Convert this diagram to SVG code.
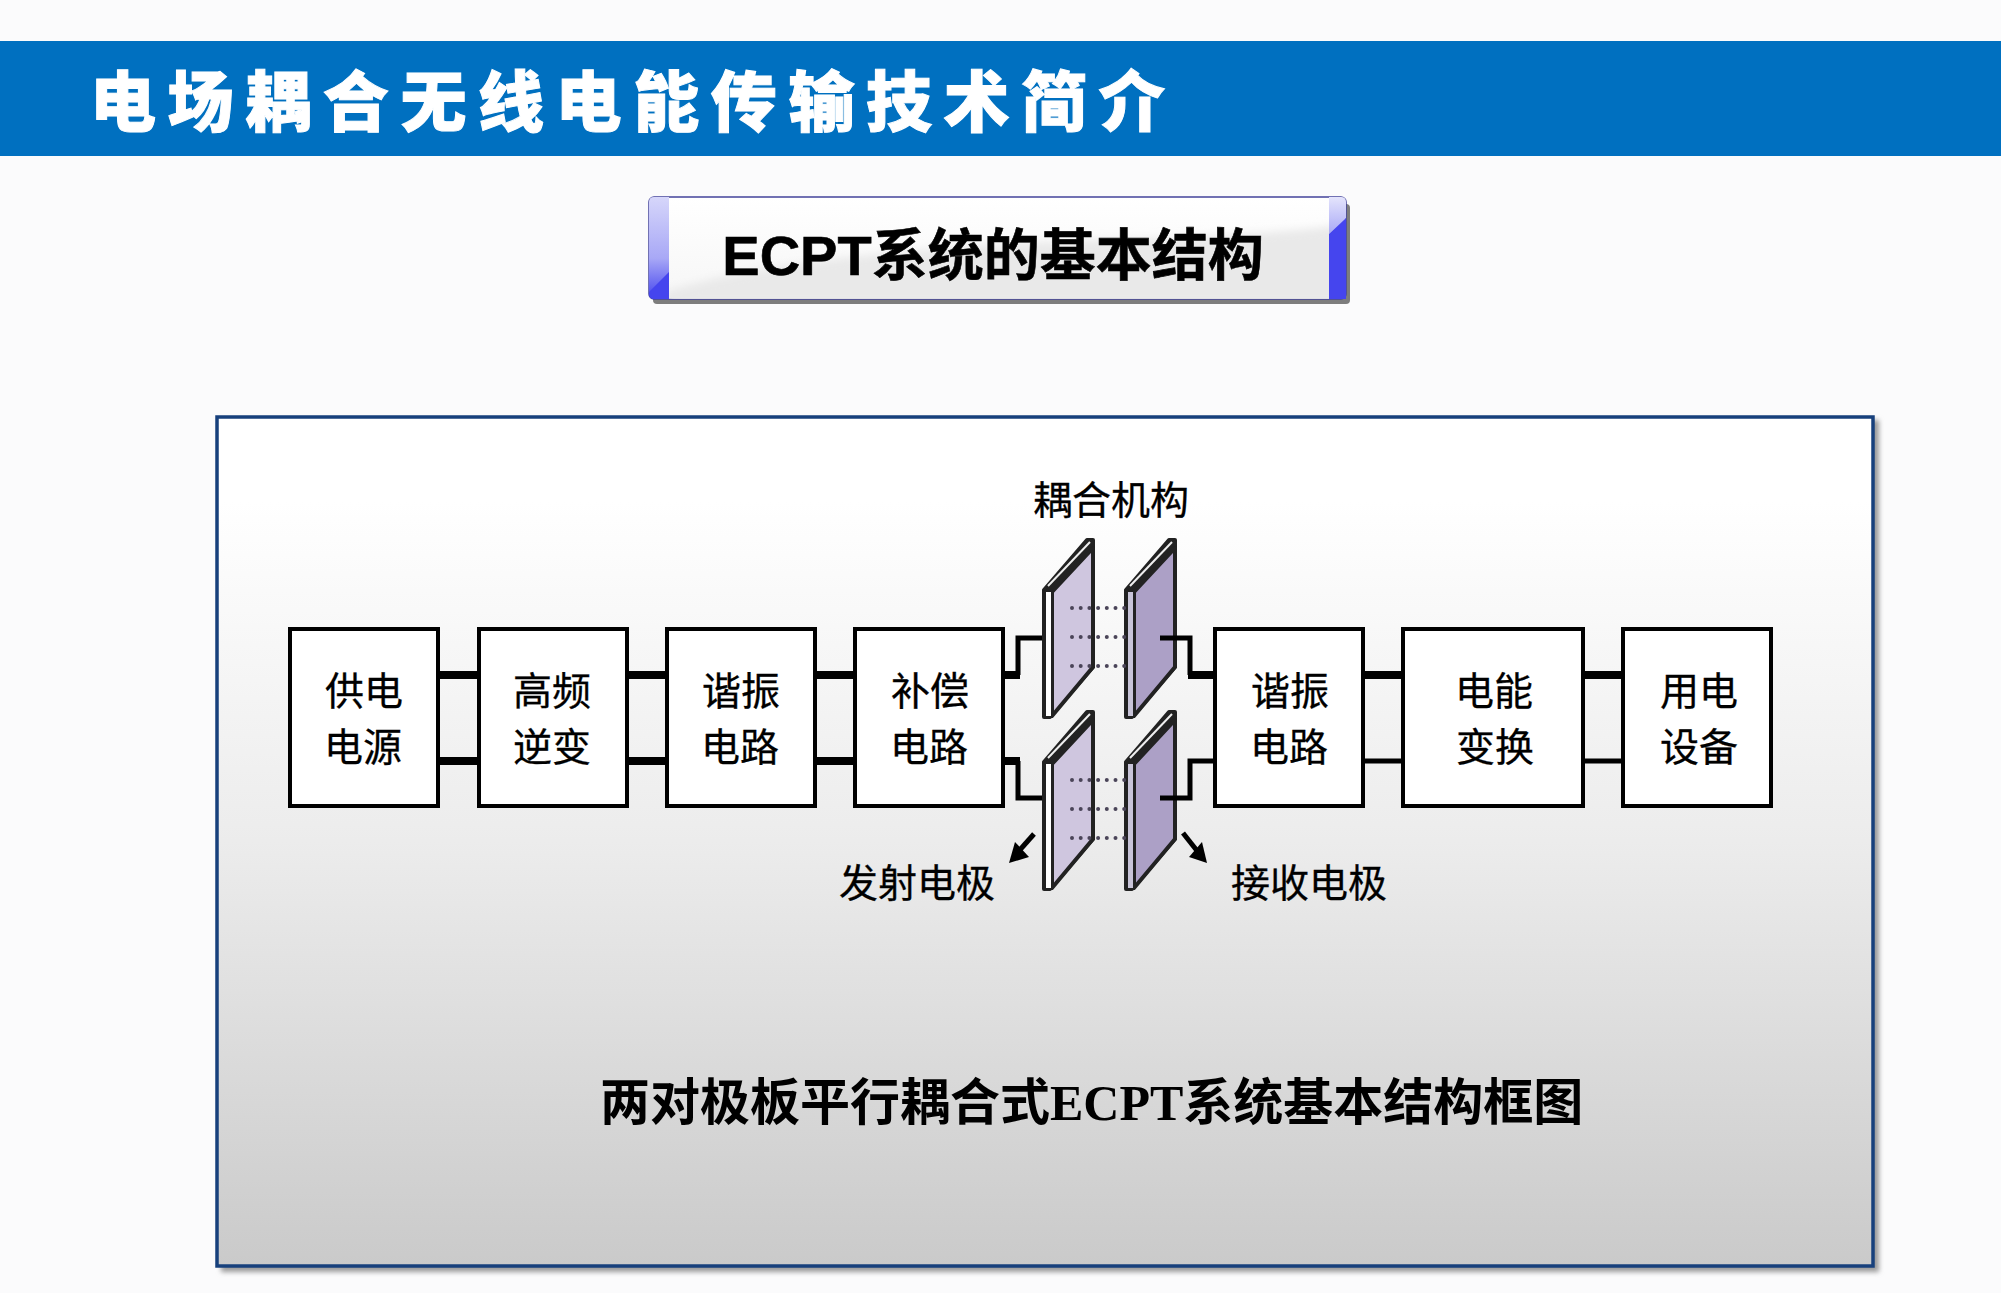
<svg xmlns="http://www.w3.org/2000/svg" width="2001" height="1293" viewBox="0 0 2001 1293">
<style>
.cn{font-family:"Noto Sans CJK SC","Liberation Sans",sans-serif;font-size:39px;fill:#000;stroke:#000;stroke-width:.3;text-anchor:middle}
.box{fill:#fff;stroke:#000;stroke-width:4}
.w8{fill:none;stroke:#000;stroke-width:8}
.w5{fill:none;stroke:#000;stroke-width:5}
.side{fill:#222;stroke:#222;stroke-width:4;stroke-linejoin:round}
.f1{fill:#cfc6df;stroke:#222;stroke-width:4;stroke-linejoin:round}
.f2{fill:#aca0c6;stroke:#222;stroke-width:4;stroke-linejoin:round}
.dots{fill:none;stroke:#4a4458;stroke-width:4;stroke-linecap:round;stroke-dasharray:0 8.7}
</style>
<defs>
<linearGradient id="pg" x1="0" y1="0" x2="0" y2="1"><stop offset="0" stop-color="#fff"/><stop offset=".1" stop-color="#fff"/><stop offset=".5" stop-color="#ececec"/><stop offset="1" stop-color="#cacaca"/></linearGradient>
<linearGradient id="bg" x1="0" y1="0" x2="0" y2="1"><stop offset="0" stop-color="#fff"/><stop offset="1" stop-color="#f6f6f6"/></linearGradient>
<linearGradient id="lb" x1="0" y1="0" x2="0" y2="1"><stop offset="0" stop-color="#d6d6fa"/><stop offset=".6" stop-color="#a8a8f6"/><stop offset="1" stop-color="#4545ee"/></linearGradient>
<linearGradient id="rb" x1="0" y1="0" x2="0" y2="1"><stop offset="0" stop-color="#e4e4fc"/><stop offset="1" stop-color="#a8a8f6"/></linearGradient>
<filter id="soft" x="-5%" y="-5%" width="110%" height="110%"><feGaussianBlur stdDeviation="2.5"/></filter>
<filter id="soft2" x="-5%" y="-20%" width="110%" height="140%"><feGaussianBlur stdDeviation="4"/></filter>
<clipPath id="bc"><rect x="649" y="197" width="697" height="102"/></clipPath>
<g id="plateA"><path class="side" d="M1044 590L1087 540H1093V667L1050 717H1044Z"/><path class="f1" d="M1052 592L1093 548V667L1052 716Z"/><path d="M1048 586L1090 542" stroke="#eee" stroke-width="2"/><rect x="1046" y="592" width="5" height="124" fill="#fff"/></g>
<g id="plateB"><path class="side" d="M1126 590L1169 540H1175V667L1132 717H1126Z"/><path class="f2" d="M1134 592L1175 548V667L1134 716Z"/><path d="M1130 586L1172 542" stroke="#eee" stroke-width="2"/><rect x="1128" y="592" width="5" height="124" fill="#c8c4d8"/></g>
</defs>
<rect id="background" width="2001" height="1293" fill="#fbfbfc"/>
<g id="header"><rect y="41" width="2001" height="115" fill="#0070c0"/>
<text x="90" y="126" font-family="'Noto Sans CJK SC',sans-serif" font-size="66" font-weight="900" fill="#fff" stroke="#fff" stroke-width="1" letter-spacing="11.6">电场耦合无线电能传输技术简介</text></g>
<g id="subtitle">
<rect x="653" y="204" width="697" height="100" rx="4" fill="#7d7d7d"/>
<rect x="649" y="197" width="697" height="102" rx="5" fill="url(#bg)" stroke="#44449a" stroke-width="1.5"/>
<g clip-path="url(#bc)"><path d="M665 292Q800 250 1100 240T1340 216V305H665Z" fill="#e9e9e9" filter="url(#soft2)"/></g>
<path d="M649 202Q649 197 654 197H669V299L649 291Z" fill="url(#lb)"/>
<path d="M649 292L669 272V299H654Q649 299 649 294Z" fill="#4545ee"/>
<path d="M1329 197H1341Q1346 197 1346 202V218L1329 234Z" fill="url(#rb)"/>
<path d="M1329 234L1346 218V299H1329Z" fill="#4545ee"/>
<text x="993" y="275" font-family="'Liberation Sans','Noto Sans CJK SC',sans-serif" font-size="56" font-weight="700" fill="#000" stroke="#000" stroke-width=".6" text-anchor="middle">ECPT<tspan font-family="'Noto Sans CJK SC',sans-serif">系统的基本结构</tspan></text>
</g>
<g id="panel">
<rect x="221" y="420" width="1658" height="852" fill="#9a9a9a" filter="url(#soft)"/>
<rect x="217" y="417" width="1656" height="849" fill="url(#pg)" stroke="#17407c" stroke-width="3.5"/>
</g>
<g id="connectors">
<path class="w8" d="M438 675H479M438 761H479M627 675H667M627 761H667M815 675H854M815 761H854"/>
<path class="w8" d="M1003 675H1020"/><path class="w5" d="M1018 675V638H1044"/>
<path class="w8" d="M1003 761H1020"/><path class="w5" d="M1018 761V798H1044"/>
<path class="w8" d="M1363 675H1403M1582 675H1623"/>
<path class="w5" d="M1363 761H1403M1582 761H1623"/>
</g>
<g id="plate-tx-top"><use href="#plateA"/></g>
<g id="plate-rx-top"><use href="#plateB"/></g>
<g id="plate-tx-bottom"><use href="#plateA" y="172"/></g>
<g id="plate-rx-bottom"><use href="#plateB" y="172"/></g>
<g id="field-lines">
<path class="dots" d="M1072 608H1125M1072 637H1125M1072 666H1125M1072 780H1125M1072 809H1125M1072 838H1125"/>
</g>
<g id="connectors-rx">
<path class="w5" d="M1160 638H1190V675"/><path class="w8" d="M1188 675H1215"/>
<path class="w5" d="M1160 798H1190V761H1215"/>
</g>
<g id="arrows">
<path d="M1034 834L1018 852" stroke="#000" stroke-width="5" fill="none"/><path d="M1009 863L1015 842L1029 857Z"/>
<path d="M1183 833L1198 852" stroke="#000" stroke-width="5" fill="none"/><path d="M1207 863L1189 857L1202 842Z"/>
</g>
<g id="n1"><rect class="box" x="290" y="629" width="148" height="177"/><text class="cn" x="364" y="705">供电</text><text class="cn" x="363" y="761">电源</text></g>
<g id="n2"><rect class="box" x="479" y="629" width="148" height="177"/><text class="cn" x="552" y="705">高频</text><text class="cn" x="552" y="761">逆变</text></g>
<g id="n3"><rect class="box" x="667" y="629" width="148" height="177"/><text class="cn" x="741" y="705">谐振</text><text class="cn" x="740" y="761">电路</text></g>
<g id="n4"><rect class="box" x="855" y="629" width="148" height="177"/><text class="cn" x="930" y="705">补偿</text><text class="cn" x="929" y="761">电路</text></g>
<g id="n5"><rect class="box" x="1215" y="629" width="148" height="177"/><text class="cn" x="1290" y="705">谐振</text><text class="cn" x="1289" y="761">电路</text></g>
<g id="n6"><rect class="box" x="1403" y="629" width="180" height="177"/><text class="cn" x="1494" y="705">电能</text><text class="cn" x="1495" y="761">变换</text></g>
<g id="n7"><rect class="box" x="1623" y="629" width="148" height="177"/><text class="cn" x="1699" y="705">用电</text><text class="cn" x="1699" y="761">设备</text></g>
<g id="labels">
<text class="cn" x="1111" y="514">耦合机构</text>
<text class="cn" x="917" y="897">发射电极</text>
<text class="cn" x="1309" y="897">接收电极</text>
<text x="600" y="1120" font-family="'Noto Sans CJK SC',sans-serif" font-size="50" font-weight="700" fill="#000">两对极板平行耦合式<tspan font-family="'Liberation Serif',serif">ECPT</tspan>系统基本结构框图</text>
</g>
</svg>
